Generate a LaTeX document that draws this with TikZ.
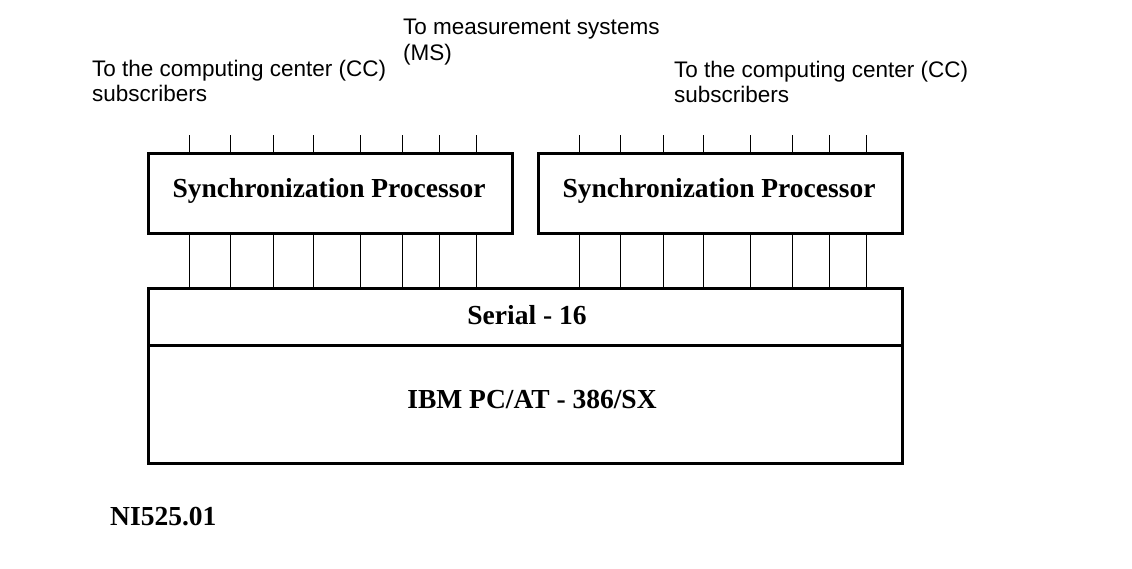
\documentclass[tikz,border=0pt]{standalone}
\usepackage{fontspec}
\setmainfont{Liberation Serif}
\newfontfamily\arialf{Liberation Sans}
\begin{document}
\begin{tikzpicture}[x=1pt,y=-1pt,
  box/.style={draw, line width=3pt, inner sep=0pt, outer sep=0pt},
  boxtext/.style={font=\fontsize{27.5}{32}\selectfont\bfseries, inner sep=0pt, anchor=base},
  lbl/.style={font=\arialf\fontsize{22.5}{25.5}\selectfont, align=left, inner sep=0pt, anchor=base west},
  wire/.style={line width=1pt}]
\useasboundingbox (0,0) rectangle (1132,568);
\node[box, minimum width=364pt, minimum height=80pt] (spl) at (330,193) {};
\node[box, minimum width=364pt, minimum height=80pt] (spr) at (720,193) {};
\node[box, minimum width=754pt, minimum height=57pt] (ser) at (525,317) {};
\node[box, minimum width=754pt, minimum height=118pt] (ibm) at (525,404.5) {};
\node[boxtext] (tl) at (329,197) {Synchronization Processor};
\node[boxtext] (tr) at (719,197) {Synchronization Processor};
\node[boxtext] (ts) at (527,324) {Serial - 16};
\node[boxtext] (ti) at (532,408) {IBM PC/AT - 386/SX};
\node[boxtext, anchor=base west] (ni) at (110,525) {NI525.01};
\node[lbl] (cc1) at (92,101.5) {To the computing center (CC)\\subscribers};
\node[lbl] (ms) at (403,60) {To measurement systems\\(MS)};
\node[lbl] (cc2) at (674,102.5) {To the computing center (CC)\\subscribers};
\foreach \x [count=\i] in {189,230,273,313,360,402,439,476} {
  \coordinate (a\i) at (\x,135);
  \draw[wire] (a\i) -- (a\i |- spl.north);
  \draw[wire] (a\i |- spl.south) -- (a\i |- ser.north);
  \coordinate (b\i) at (\x+390,135);
  \draw[wire] (b\i) -- (b\i |- spr.north);
  \draw[wire] (b\i |- spr.south) -- (b\i |- ser.north);
}
\end{tikzpicture}
\end{document}
